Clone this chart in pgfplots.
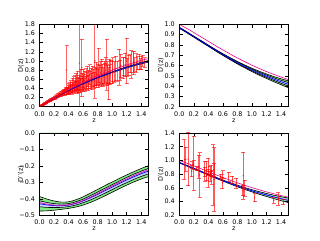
\documentclass[border=0pt]{standalone}
\usepackage{fontspec}
\setmainfont{DejaVu Sans}
\usepackage{pgfplots}
\pgfplotsset{compat=1.18}
\usepackage{pgfplotstable}

\definecolor{bandgreen}{RGB}{130,235,130}
\definecolor{bandblue}{RGB}{200,215,255}

\pgfplotstableread{
z m w2 w1 mag
0.0 0.000 0.000 0.000 0.000
0.1 0.0945 0.001 0.0005 0.098
0.2 0.185 0.001 0.0005 0.192
0.3 0.271 0.002 0.001 0.282
0.4 0.352 0.002 0.001 0.368
0.5 0.429 0.003 0.0015 0.449
0.6 0.502 0.003 0.0015 0.526
0.7 0.570 0.004 0.002 0.599
0.8 0.635 0.005 0.0025 0.668
0.9 0.696 0.006 0.003 0.734
1.0 0.753 0.007 0.0035 0.796
1.1 0.807 0.009 0.0045 0.855
1.2 0.858 0.011 0.0055 0.910
1.3 0.907 0.013 0.0065 0.963
1.4 0.952 0.015 0.0075 1.013
1.5 0.990 0.018 0.009 1.050
}\tabD

\pgfplotstableread{
z m w2 w1 mag
0.0 0.967 0.005 0.0025 1.000
0.1 0.924 0.005 0.0025 0.961
0.2 0.880 0.005 0.0025 0.920
0.3 0.836 0.006 0.003 0.877
0.4 0.792 0.006 0.003 0.835
0.5 0.748 0.007 0.0035 0.792
0.6 0.706 0.008 0.004 0.751
0.7 0.666 0.010 0.005 0.711
0.8 0.627 0.012 0.006 0.673
0.9 0.591 0.014 0.007 0.637
1.0 0.557 0.016 0.008 0.603
1.1 0.525 0.019 0.0095 0.571
1.2 0.496 0.022 0.011 0.541
1.3 0.468 0.025 0.0125 0.514
1.4 0.442 0.029 0.0145 0.488
1.5 0.418 0.033 0.0165 0.463
}\tabDp

\pgfplotstableread{
z m w2 w1 mag
0.0 -0.430 0.044 0.018 -0.423
0.1 -0.437 0.036 0.015 -0.432
0.2 -0.441 0.028 0.012 -0.438
0.3 -0.442 0.022 0.010 -0.440
0.4 -0.438 0.020 0.009 -0.436
0.5 -0.428 0.022 0.010 -0.426
0.6 -0.413 0.025 0.011 -0.410
0.7 -0.394 0.028 0.013 -0.390
0.8 -0.373 0.030 0.014 -0.368
0.9 -0.351 0.031 0.015 -0.345
1.0 -0.329 0.031 0.015 -0.322
1.1 -0.307 0.031 0.015 -0.300
1.2 -0.286 0.031 0.016 -0.279
1.3 -0.266 0.031 0.016 -0.259
1.4 -0.248 0.032 0.016 -0.241
1.5 -0.232 0.033 0.017 -0.224
}\tabDpp

\pgfplotstableread{
z d e
0.015 0.015 0.003
0.020 0.019 0.003
0.024 0.024 0.004
0.028 0.028 0.004
0.032 0.031 0.004
0.036 0.036 0.004
0.040 0.038 0.005
0.045 0.045 0.005
0.050 0.049 0.005
0.055 0.053 0.006
0.060 0.060 0.006
0.065 0.062 0.006
0.070 0.068 0.007
0.075 0.074 0.007
0.080 0.077 0.008
0.085 0.083 0.008
0.090 0.088 0.009
0.100 0.097 0.010
0.110 0.104 0.012
0.120 0.117 0.012
0.130 0.122 0.014
0.140 0.136 0.015
0.150 0.140 0.016
0.160 0.155 0.017
0.170 0.158 0.018
0.180 0.172 0.020
0.190 0.176 0.020
0.200 0.190 0.022
0.210 0.192 0.025
0.220 0.210 0.025
0.230 0.215 0.028
0.240 0.232 0.030
0.250 0.225 0.030
0.260 0.250 0.032
0.270 0.256 0.035
0.280 0.270 0.035
0.290 0.262 0.040
0.300 0.285 0.040
0.310 0.292 0.045
0.320 0.302 0.050
0.330 0.312 0.050
0.340 0.330 0.050
0.350 0.318 0.060
0.360 0.352 0.060
0.370 0.330 0.070
0.372 0.800 0.530
0.380 0.372 0.060
0.390 0.348 0.080
0.400 0.402 0.100
0.405 0.330 0.070
0.410 0.382 0.090
0.420 0.425 0.100
0.425 0.362 0.080
0.430 0.452 0.120
0.440 0.400 0.090
0.450 0.370 0.100
0.455 0.482 0.140
0.460 0.420 0.110
0.470 0.505 0.150
0.475 0.392 0.100
0.480 0.452 0.120
0.490 0.522 0.160
0.500 0.432 0.120
0.505 0.552 0.180
0.510 0.470 0.140
0.520 0.402 0.120
0.525 0.582 0.200
0.530 0.500 0.150
0.540 0.440 0.130
0.547 0.950 0.950
0.550 0.520 0.170
0.560 0.470 0.150
0.570 0.600 0.220
0.584 0.850 0.630
0.585 0.500 0.160
0.590 0.550 0.180
0.600 0.480 0.140
0.605 0.620 0.200
0.610 0.530 0.170
0.620 0.580 0.200
0.630 0.500 0.160
0.640 0.620 0.210
0.650 0.560 0.180
0.660 0.660 0.220
0.670 0.520 0.170
0.680 0.600 0.200
0.690 0.700 0.220
0.700 0.580 0.190
0.710 0.640 0.200
0.720 0.550 0.180
0.730 0.670 0.220
0.740 0.620 0.200
0.750 0.580 0.180
0.763 1.000 0.820
0.770 0.660 0.200
0.780 0.720 0.250
0.790 0.630 0.200
0.800 0.700 0.220
0.810 0.620 0.190
0.817 0.910 0.370
0.830 0.680 0.220
0.840 0.740 0.250
0.850 0.660 0.210
0.860 0.780 0.260
0.870 0.700 0.230
0.880 0.650 0.200
0.890 0.750 0.240
0.900 0.720 0.230
0.910 0.800 0.270
0.923 0.920 0.560
0.930 0.680 0.220
0.940 0.740 0.240
0.955 0.500 0.350
0.960 0.780 0.260
0.970 0.700 0.220
0.980 0.760 0.250
1.000 0.740 0.240
1.010 0.810 0.260
1.030 0.760 0.220
1.050 0.840 0.270
1.070 0.780 0.220
1.096 0.860 0.390
1.110 0.800 0.220
1.120 0.900 0.250
1.150 0.840 0.230
1.160 0.880 0.200
1.180 0.920 0.250
1.198 1.000 0.500
1.210 0.860 0.200
1.230 0.900 0.220
1.250 0.940 0.200
1.260 0.920 0.300
1.290 0.980 0.220
1.300 0.950 0.250
1.310 0.920 0.150
1.330 0.960 0.200
1.350 0.950 0.140
1.370 0.980 0.170
1.390 0.930 0.120
1.400 0.960 0.150
1.420 1.000 0.120
1.450 0.970 0.100
}\tabSN

\pgfplotstableread{
z d e
0.07 1.014 0.288
0.09 1.014 0.176
0.12 1.020 0.390
0.17 0.843 0.081
0.179 0.933 0.050
0.199 0.933 0.062
0.2 0.960 0.390
0.24 0.878 0.029
0.27 0.909 0.165
0.28 0.788 0.325
0.35 0.829 0.069
0.352 0.843 0.142
0.3802 0.843 0.137
0.4 0.737 0.132
0.4004 0.909 0.120
0.4247 0.804 0.103
0.43 0.810 0.034
0.44 0.847 0.080
0.4497 0.754 0.105
0.47 0.787 0.442
0.4783 0.865 0.096
0.48 0.722 0.461
0.57 0.758 0.037
0.593 0.673 0.084
0.6 0.796 0.055
0.68 0.761 0.066
0.73 0.719 0.052
0.781 0.667 0.076
0.875 0.560 0.076
0.88 0.778 0.346
0.9 0.598 0.118
1.037 0.455 0.059
1.3 0.417 0.042
1.363 0.438 0.092
1.43 0.395 0.040
}\tabH

\pgfplotsset{
  myax/.style={
    scale only axis, width=109pt, height=82.4pt,
    xmin=0, xmax=1.5, xtick={0,0.2,0.4,0.6,0.8,1.0,1.2,1.4},
    tick align=inside, major tick length=3.5pt,
    tick style={black, line width=0.5pt},
    axis line style={line width=0.6pt},
    every tick label/.append style={font=\fontsize{6.4}{7}\selectfont},
    xticklabel style={yshift=-1.3pt},
    yticklabel style={xshift=-1pt},
    /pgf/number format/assume math mode=true,
    /pgf/number format/fixed, /pgf/number format/fixed zerofill,
    /pgf/number format/precision=1,
    scaled ticks=false,
    xlabel={z},
    every axis x label/.style={at={(axis description cs:0.5,-0.165)}, anchor=center, font=\fontsize{6.4}{7}\selectfont},
    every axis y label/.style={at={(axis description cs:-0.17,0.5)}, anchor=center, rotate=90, font=\fontsize{6.4}{7}\selectfont},
    axis on top,
  },
  errs/.style={
    only marks, mark=*, mark size=0.45pt, color=red, solid,
    mark options={draw=red, fill=red, opacity=#1, solid},
    error bars/.cd, y dir=both, y explicit,
    error bar style={draw=red, opacity=#1, line width=1pt, solid},
    error mark=-, error mark options={draw=red, opacity=#1, mark size=2pt, line width=0.7pt, solid, rotate=90}
  },
  bl/.style={black, line width=0.6pt, smooth},
}

\begin{document}
\begin{tikzpicture}
\path[use as bounding box] (0,0) rectangle (320pt,240pt);

% Top-left: D(z)
\begin{axis}[myax, at={(39.5pt,133.3pt)}, anchor=south west,
  ymin=0, ymax=1.8, ytick={0,0.2,0.4,0.6,0.8,1.0,1.2,1.4,1.6,1.8}, ylabel={D(z)}]
\addplot[errs=0.6] table[x=z, y=d, y error=e] {\tabSN};
\addplot[bl] table[x=z, y expr=\thisrow{m}+\thisrow{w2}] {\tabD};
\addplot[bl] table[x=z, y expr=\thisrow{m}-\thisrow{w2}] {\tabD};
\addplot[blue, line width=0.8pt, smooth] table[x=z, y=m] {\tabD};
\addplot[magenta, line width=0.6pt, smooth] table[x=z, y=mag] {\tabD};
\end{axis}

% Top-right: D'(z)
\begin{axis}[myax, at={(179.3pt,133.3pt)}, anchor=south west,
  ymin=0.2, ymax=1.0, ytick={0.2,0.3,0.4,0.5,0.6,0.7,0.8,0.9,1.0}, ylabel={D′(z)}]
\addplot[fill=bandgreen, draw=none, smooth] table[x=z, y expr=\thisrow{m}+\thisrow{w2}] {\tabDp} \closedcycle;
\addplot[fill=bandblue, draw=none, smooth] table[x=z, y expr=\thisrow{m}+\thisrow{w1}] {\tabDp} \closedcycle;
\addplot[fill=bandgreen, draw=none, smooth] table[x=z, y expr=\thisrow{m}-\thisrow{w1}] {\tabDp} \closedcycle;
\addplot[fill=white, draw=none, smooth] table[x=z, y expr=\thisrow{m}-\thisrow{w2}] {\tabDp} \closedcycle;
\addplot[bl] table[x=z, y expr=\thisrow{m}+\thisrow{w2}] {\tabDp};
\addplot[bl] table[x=z, y expr=\thisrow{m}+\thisrow{w1}] {\tabDp};
\addplot[bl] table[x=z, y expr=\thisrow{m}-\thisrow{w1}] {\tabDp};
\addplot[bl] table[x=z, y expr=\thisrow{m}-\thisrow{w2}] {\tabDp};
\addplot[blue, line width=0.7pt, smooth] table[x=z, y=m] {\tabDp};
\addplot[magenta, line width=0.6pt, smooth] table[x=z, y=mag] {\tabDp};
\end{axis}

% Bottom-left: D''(z)
\begin{axis}[myax, at={(39.5pt,24.7pt)}, anchor=south west,
  ymin=-0.5, ymax=0, ytick={-0.5,-0.4,-0.3,-0.2,-0.1,0},
  yticklabels={−0.5,−0.4,−0.3,−0.2,−0.1,0.0}, ylabel={D′′(z)}]
\addplot[fill=bandgreen, draw=none, smooth] table[x=z, y expr=\thisrow{m}-\thisrow{w2}] {\tabDpp} \closedcycle;
\addplot[fill=bandblue, draw=none, smooth] table[x=z, y expr=\thisrow{m}-\thisrow{w1}] {\tabDpp} \closedcycle;
\addplot[fill=bandgreen, draw=none, smooth] table[x=z, y expr=\thisrow{m}+\thisrow{w1}] {\tabDpp} \closedcycle;
\addplot[fill=white, draw=none, smooth] table[x=z, y expr=\thisrow{m}+\thisrow{w2}] {\tabDpp} \closedcycle;
\addplot[bl] table[x=z, y expr=\thisrow{m}+\thisrow{w2}] {\tabDpp};
\addplot[bl] table[x=z, y expr=\thisrow{m}+\thisrow{w1}] {\tabDpp};
\addplot[bl] table[x=z, y expr=\thisrow{m}-\thisrow{w1}] {\tabDpp};
\addplot[bl] table[x=z, y expr=\thisrow{m}-\thisrow{w2}] {\tabDpp};
\addplot[blue, line width=0.7pt, smooth] table[x=z, y=m] {\tabDpp};
\addplot[magenta, line width=0.6pt, smooth] table[x=z, y=mag] {\tabDpp};
\end{axis}

% Bottom-right: D'(z) with data
\begin{axis}[myax, at={(179.3pt,24.7pt)}, anchor=south west,
  ymin=0.2, ymax=1.4, ytick={0.2,0.4,0.6,0.8,1.0,1.2,1.4}, ylabel={D′(z)}]
\addplot[fill=bandgreen, draw=none, smooth] table[x=z, y expr=\thisrow{m}+\thisrow{w2}] {\tabDp} \closedcycle;
\addplot[fill=bandblue, draw=none, smooth] table[x=z, y expr=\thisrow{m}+\thisrow{w1}] {\tabDp} \closedcycle;
\addplot[fill=bandgreen, draw=none, smooth] table[x=z, y expr=\thisrow{m}-\thisrow{w1}] {\tabDp} \closedcycle;
\addplot[fill=white, draw=none, smooth] table[x=z, y expr=\thisrow{m}-\thisrow{w2}] {\tabDp} \closedcycle;
\addplot[bl] table[x=z, y expr=\thisrow{m}+\thisrow{w2}] {\tabDp};
\addplot[bl] table[x=z, y expr=\thisrow{m}-\thisrow{w2}] {\tabDp};
\addplot[blue, line width=0.8pt, smooth] table[x=z, y=m] {\tabDp};
\addplot[magenta, line width=0.6pt, smooth] table[x=z, y=mag] {\tabDp};
\addplot[errs=0.65] table[x=z, y=d, y error=e] {\tabH};
\end{axis}
\end{tikzpicture}
\end{document}
